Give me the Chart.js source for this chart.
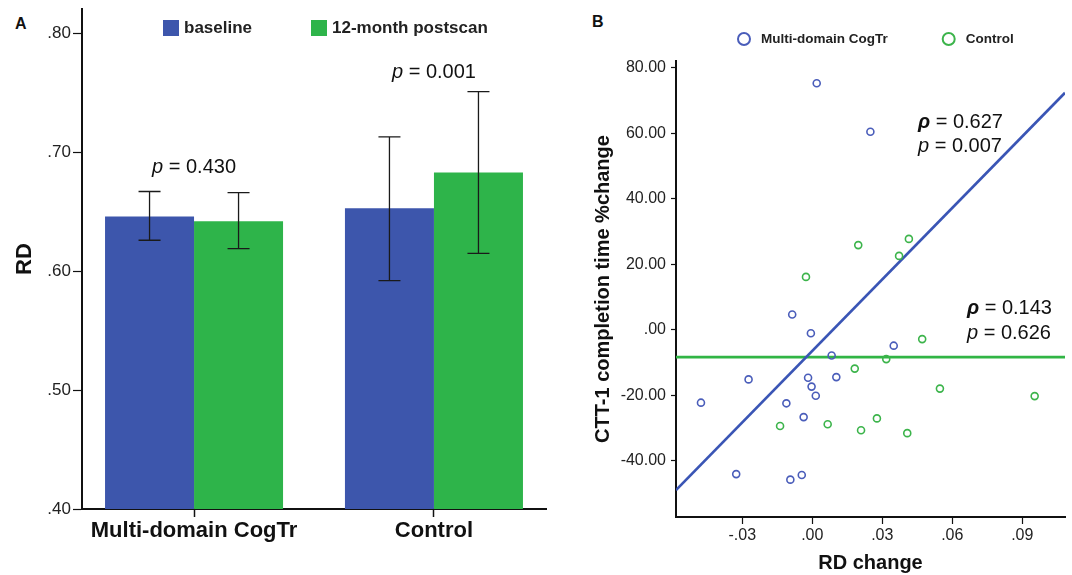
<!DOCTYPE html>
<html>
<head>
<meta charset="utf-8">
<script src="https://cdn.jsdelivr.net/npm/chart.js@4.4.1/dist/chart.umd.min.js"></script>
<style>
    body { margin: 0; background: #fff; }
    #wrap { position: relative; width: 1072px; height: 575px; background: #fff; }
    .tag { position: absolute; font: bold 16px "Liberation Sans", Arial, sans-serif; line-height: 16px; color: #111; }
    canvas { position: absolute; top: 0; }
</style>
</head>
<body>
<div id="wrap">
    <div class="tag" style="left:15px;top:16px">A</div>
    <div class="tag" style="left:592px;top:14px">B</div>
    <canvas id="rd_bars" width="560" height="575" style="left:0"></canvas>
    <canvas id="rd_scatter" width="512" height="575" style="left:560px"></canvas>
</div>
<script>
// panel A - mean RD with error bars
var groups = ["Multi-domain CogTr", "Control"];
var baseline = [0.646, 0.653];
var baselineLow = [0.626, 0.592];
var baselineHigh = [0.667, 0.713];
var postscan = [0.642, 0.683];
var postscanLow = [0.619, 0.615];
var postscanHigh = [0.666, 0.751];

// panel B - RD change vs CTT-1 %change
var cogX = [0.0019, 0.0249, -0.0086, -0.0006, 0.0349, 0.0083, -0.0273, -0.0018, 0.0103, -0.0003, 0.0015, -0.0477, -0.0111, -0.0037, -0.0326, -0.0094, -0.0045];
var cogY = [75.3, 60.5, 4.7, -1.0, -4.8, -7.8, -15.1, -14.6, -14.4, -17.3, -20.1, -22.2, -22.4, -26.6, -44.0, -45.7, -44.3];
var ctrlX = [0.0197, 0.0414, 0.0372, -0.0027, 0.0471, 0.0317, 0.0182, 0.0547, 0.0953, -0.0138, 0.0066, 0.0277, 0.0209, 0.0407];
var ctrlY = [25.9, 27.8, 22.6, 16.2, -2.8, -8.9, -11.8, -17.9, -20.2, -29.3, -28.8, -27.0, -30.6, -31.5];
var fitX = [-0.0584, 0.1083];
var cogFitY = [-48.9, 72.4];
var ctrlFitY = [-8.3, -8.3];

var FONT = '"Liberation Sans", Arial, sans-serif';

function pairs(xs, ys) {
    var out = [];
    for (var i in xs) {
        out.push({ x: xs[i], y: ys[i] });
    }
    return out;
}

function tickText(v) {
    return v.toFixed(2).replace(/^(-?)0\./, "$1.");
}

// error bars on top of each bar
var errorBars = {
    id: "errorBars",
    afterDatasetsDraw: function(chart) {
        var ctx = chart.ctx;
        var y = chart.scales.y;
        ctx.save();
        ctx.strokeStyle = "#1a1a1a";
        ctx.lineWidth = 1.3;
        chart.data.datasets.forEach(function(ds, d) {
            chart.getDatasetMeta(d).data.forEach(function(bar, i) {
                var top = y.getPixelForValue(ds.errHigh[i]);
                var bot = y.getPixelForValue(ds.errLow[i]);
                ctx.beginPath();
                ctx.moveTo(bar.x, top);
                ctx.lineTo(bar.x, bot);
                ctx.moveTo(bar.x - 11, top);
                ctx.lineTo(bar.x + 11, top);
                ctx.moveTo(bar.x - 11, bot);
                ctx.lineTo(bar.x + 11, bot);
                ctx.stroke();
            });
        });
        ctx.restore();
    }
};

// simple legend row drawn at fixed spots
var keyRow = {
    id: "keyRow",
    afterDraw: function(chart, args, opts) {
        var ctx = chart.ctx;
        ctx.save();
        ctx.font = opts.font;
        ctx.textBaseline = "middle";
        ctx.textAlign = "left";
        opts.x.forEach(function(x, i) {
            var ds = chart.data.datasets[i];
            if (opts.shape == "rect") {
                ctx.fillStyle = ds.backgroundColor;
                ctx.fillRect(x, opts.y - opts.size / 2, opts.size, opts.size);
            } else {
                ctx.strokeStyle = ds.borderColor;
                ctx.lineWidth = 2;
                ctx.beginPath();
                ctx.arc(x + opts.size / 2, opts.y, opts.size / 2 - 1, 0, Math.PI * 2);
                ctx.stroke();
            }
            ctx.fillStyle = "#222";
            ctx.fillText(ds.label, x + opts.size + opts.gap, opts.y);
        });
        ctx.restore();
    }
};

// p / rho text placed in data coordinates
var notes = {
    id: "notes",
    afterDatasetsDraw: function(chart, args, opts) {
        var ctx = chart.ctx;
        ctx.save();
        ctx.fillStyle = "#111";
        ctx.textBaseline = "middle";
        ctx.textAlign = "left";
        opts.items.forEach(function(n) {
            var x = chart.scales.x.getPixelForValue(n.x);
            var y = chart.scales.y.getPixelForValue(n.y);
            var w = 0;
            n.parts.forEach(function(p) {
                ctx.font = p[1];
                w += ctx.measureText(p[0]).width;
            });
            if (n.align == "center") x -= w / 2;
            n.parts.forEach(function(p) {
                ctx.font = p[1];
                ctx.fillText(p[0], x, y);
                x += ctx.measureText(p[0]).width;
            });
        });
        ctx.restore();
    }
};

var ital = "italic 20px " + FONT;
var plain = "20px " + FONT;
var rho = "italic bold 20px " + FONT;

new Chart(document.getElementById("rd_bars"), {
    type: "bar",
    data: {
        datasets: [{
            label: "baseline",
            data: pairs([0, 1], baseline),
            backgroundColor: "#3d56ac",
            errLow: baselineLow,
            errHigh: baselineHigh,
        }, {
            label: "12-month postscan",
            data: pairs([0, 1], postscan),
            backgroundColor: "#2eb44a",
            errLow: postscanLow,
            errHigh: postscanHigh,
        }, ],
    },
    plugins: [errorBars, keyRow, notes],
    options: {
        responsive: false,
        animation: false,
        layout: { padding: { top: 9, right: 14, left: 0, bottom: 0 } },
        datasets: { bar: { categoryPercentage: 0.742, barPercentage: 1 } },
        plugins: {
            legend: { display: false },
            tooltip: { enabled: false },
            keyRow: { shape: "rect", x: [163, 311], y: 28, size: 16, gap: 5, font: "bold 17px " + FONT },
            notes: {
                items: [
                    { x: 0, y: 0.687, align: "center", parts: [["p", ital], [" = 0.430", plain]] },
                    { x: 1, y: 0.767, align: "center", parts: [["p", ital], [" = 0.001", plain]] },
                ],
            },
        },
        scales: {
            x: {
                type: "linear",
                offset: false,
                min: -0.467,
                max: 1.467,
                afterBuildTicks: function(s) {
                    s.ticks = groups.map(function(g, i) { return { value: i }; });
                },
                afterFit: function(s) { s.height = 66; },
                grid: { offset: false, drawOnChartArea: false, tickLength: 8, color: "#111", tickWidth: 1.5 },
                border: { color: "#111", width: 2 },
                ticks: {
                    padding: 1,
                    color: "#111",
                    font: { family: FONT, size: 22, weight: "bold" },
                    callback: function(v) { return groups[v]; },
                },
            },
            y: {
                min: 0.4,
                max: 0.8205,
                afterFit: function(s) { s.width = 82; s.paddingTop = 0; },
                grid: { drawOnChartArea: false, tickLength: 9, color: "#111", tickWidth: 1.2 },
                border: { color: "#111", width: 2 },
                ticks: {
                    stepSize: 0.1,
                    includeBounds: false,
                    padding: 2,
                    color: "#222",
                    font: { family: FONT, size: 17 },
                    callback: tickText,
                },
                title: {
                    display: true,
                    text: "RD",
                    color: "#111",
                    font: { family: FONT, size: 22, weight: "bold" },
                    padding: { top: 12, bottom: 0 },
                },
            },
        },
    },
});

new Chart(document.getElementById("rd_scatter"), {
    type: "scatter",
    data: {
        datasets: [{
            label: "Multi-domain CogTr",
            data: pairs(cogX, cogY),
            borderColor: "#4a5dba",
            backgroundColor: "rgba(255, 255, 255, 0)",
            pointRadius: 3.5,
            pointBorderWidth: 1.6,
            order: 1,
        }, {
            label: "Control",
            data: pairs(ctrlX, ctrlY),
            borderColor: "#3cb44b",
            backgroundColor: "rgba(255, 255, 255, 0)",
            pointRadius: 3.5,
            pointBorderWidth: 1.6,
            order: 1,
        }, {
            label: "CogTr fit",
            type: "line",
            data: pairs(fitX, cogFitY),
            borderColor: "#3a55b5",
            borderWidth: 2.6,
            pointRadius: 0,
            order: 2,
        }, {
            label: "Control fit",
            type: "line",
            data: pairs(fitX, ctrlFitY),
            borderColor: "#31b545",
            borderWidth: 2.6,
            pointRadius: 0,
            order: 2,
        }, ],
    },
    plugins: [keyRow, notes],
    options: {
        responsive: false,
        animation: false,
        layout: { padding: { top: 61, right: 7, left: 0, bottom: 0 } },
        plugins: {
            legend: { display: false },
            tooltip: { enabled: false },
            keyRow: { shape: "circle", x: [177, 381.7], y: 39, size: 14, gap: 10, font: "bold 13.5px " + FONT },
            notes: {
                items: [
                    { x: 0.0453, y: 63.4, parts: [["\u03c1", rho], [" = 0.627", plain]] },
                    { x: 0.0453, y: 56.0, parts: [["p", ital], [" = 0.007", plain]] },
                    { x: 0.0663, y: 6.6, parts: [["\u03c1", rho], [" = 0.143", plain]] },
                    { x: 0.0663, y: -1.0, parts: [["p", ital], [" = 0.626", plain]] },
                ],
            },
        },
        scales: {
            x: {
                type: "linear",
                min: -0.0584,
                max: 0.1083,
                afterFit: function(s) { s.height = 58; },
                grid: { drawOnChartArea: false, tickLength: 7, color: "#111", tickWidth: 1.2 },
                border: { color: "#111", width: 2 },
                ticks: {
                    stepSize: 0.03,
                    includeBounds: false,
                    padding: 2,
                    color: "#222",
                    font: { family: FONT, size: 16 },
                    callback: tickText,
                },
                title: {
                    display: true,
                    text: "RD change",
                    color: "#111",
                    font: { family: FONT, size: 20, weight: "bold" },
                    padding: { top: 0, bottom: 0 },
                },
            },
            y: {
                min: -57.1,
                max: 82.1,
                afterFit: function(s) { s.width = 116; },
                grid: { drawOnChartArea: false, tickLength: 5, color: "#111", tickWidth: 1.2 },
                border: { color: "#111", width: 2 },
                ticks: {
                    stepSize: 20,
                    includeBounds: false,
                    padding: 5,
                    color: "#222",
                    font: { family: FONT, size: 16 },
                    callback: tickText,
                },
                title: {
                    display: true,
                    text: "CTT-1 completion time %change",
                    color: "#111",
                    font: { family: FONT, size: 20, weight: "bold" },
                    padding: { top: 31, bottom: 0 },
                },
            },
        },
    },
});
</script>
</body>
</html>
